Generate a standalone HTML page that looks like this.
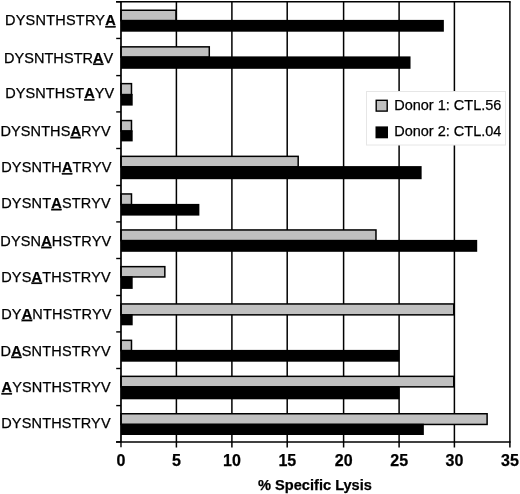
<!DOCTYPE html><html><head><meta charset="utf-8"><style>html,body{margin:0;padding:0;background:#fff;}svg{display:block;will-change:transform}text{font-family:"Liberation Sans",sans-serif;stroke:#000;stroke-width:0.25px}</style></head><body>
<svg width="520" height="494" viewBox="0 0 520 494">
<rect width="520" height="494" fill="#fff"/>
<line x1="176.40" y1="1.8" x2="176.40" y2="447.5" stroke="#000" stroke-width="1.5"/>
<line x1="231.90" y1="1.8" x2="231.90" y2="447.5" stroke="#000" stroke-width="1.5"/>
<line x1="287.20" y1="1.8" x2="287.20" y2="447.5" stroke="#000" stroke-width="1.5"/>
<line x1="343.60" y1="1.8" x2="343.60" y2="447.5" stroke="#000" stroke-width="1.5"/>
<line x1="399.10" y1="1.8" x2="399.10" y2="447.5" stroke="#000" stroke-width="1.5"/>
<line x1="454.40" y1="1.8" x2="454.40" y2="447.5" stroke="#000" stroke-width="1.5"/>
<line x1="509.90" y1="1.8" x2="509.90" y2="447.5" stroke="#000" stroke-width="1.5"/>
<rect x="366.5" y="91.5" width="139" height="53.5" fill="#fff" stroke="#e6e6e6" stroke-width="1"/>
<rect x="120.98" y="10.25" width="54.97" height="10.40" fill="#c0c0c0" stroke="#000" stroke-width="1.5"/>
<rect x="120.98" y="19.90" width="322.88" height="11.80" fill="#000"/>
<text x="4.92" y="25.10" font-size="14.5" textLength="110.80">DYSNTHSTRY<tspan font-weight="bold" text-decoration="underline">A</tspan></text>
<rect x="120.98" y="46.85" width="88.30" height="10.30" fill="#c0c0c0" stroke="#000" stroke-width="1.5"/>
<rect x="120.98" y="56.40" width="289.54" height="12.40" fill="#000"/>
<text x="3.92" y="62.50" font-size="14.5" textLength="109.37">DYSNTHSTR<tspan font-weight="bold" text-decoration="underline">A</tspan>V</text>
<rect x="120.98" y="83.65" width="10.51" height="11.00" fill="#c0c0c0" stroke="#000" stroke-width="1.5"/>
<rect x="120.98" y="93.90" width="11.71" height="11.70" fill="#000"/>
<text x="5.14" y="98.20" font-size="14.5" textLength="109.03">DYSNTHST<tspan font-weight="bold" text-decoration="underline">A</tspan>YV</text>
<rect x="120.98" y="120.55" width="10.51" height="10.50" fill="#c0c0c0" stroke="#000" stroke-width="1.5"/>
<rect x="120.98" y="130.30" width="11.71" height="11.10" fill="#000"/>
<text x="0.49" y="135.90" font-size="14.5" textLength="110.20">DYSNTHS<tspan font-weight="bold" text-decoration="underline">A</tspan>RYV</text>
<rect x="120.98" y="156.35" width="177.21" height="10.50" fill="#c0c0c0" stroke="#000" stroke-width="1.5"/>
<rect x="120.98" y="166.10" width="300.65" height="13.10" fill="#000"/>
<text x="1.20" y="172.10" font-size="14.5" textLength="110.31">DYSNTH<tspan font-weight="bold" text-decoration="underline">A</tspan>TRYV</text>
<rect x="120.98" y="193.95" width="10.51" height="10.70" fill="#c0c0c0" stroke="#000" stroke-width="1.5"/>
<rect x="120.98" y="203.90" width="78.39" height="11.70" fill="#000"/>
<text x="1.20" y="207.90" font-size="14.5" textLength="109.47">DYSNT<tspan font-weight="bold" text-decoration="underline">A</tspan>STRYV</text>
<rect x="120.98" y="229.95" width="255.00" height="10.70" fill="#c0c0c0" stroke="#000" stroke-width="1.5"/>
<rect x="120.98" y="239.90" width="356.22" height="11.90" fill="#000"/>
<text x="0.31" y="245.80" font-size="14.5" textLength="110.84">DYSN<tspan font-weight="bold" text-decoration="underline">A</tspan>HSTRYV</text>
<rect x="120.98" y="266.65" width="43.85" height="10.30" fill="#c0c0c0" stroke="#000" stroke-width="1.5"/>
<rect x="120.98" y="276.20" width="11.71" height="12.70" fill="#000"/>
<text x="1.20" y="281.50" font-size="14.5" textLength="109.49">DYS<tspan font-weight="bold" text-decoration="underline">A</tspan>THSTRYV</text>
<rect x="120.98" y="303.95" width="332.79" height="10.90" fill="#c0c0c0" stroke="#000" stroke-width="1.5"/>
<rect x="120.98" y="314.10" width="11.71" height="11.20" fill="#000"/>
<text x="1.20" y="318.70" font-size="14.5" textLength="110.31">DY<tspan font-weight="bold" text-decoration="underline">A</tspan>NTHSTRYV</text>
<rect x="120.98" y="340.35" width="10.51" height="10.30" fill="#c0c0c0" stroke="#000" stroke-width="1.5"/>
<rect x="120.98" y="349.90" width="278.43" height="11.80" fill="#000"/>
<text x="0.49" y="355.60" font-size="14.5" textLength="110.20">D<tspan font-weight="bold" text-decoration="underline">A</tspan>SNTHSTRYV</text>
<rect x="120.98" y="376.35" width="332.79" height="10.50" fill="#c0c0c0" stroke="#000" stroke-width="1.5"/>
<rect x="120.98" y="386.10" width="278.43" height="13.20" fill="#000"/>
<text x="1.50" y="392.10" font-size="14.5" textLength="109.19"><tspan font-weight="bold" text-decoration="underline">A</tspan>YSNTHSTRYV</text>
<rect x="120.98" y="413.75" width="366.13" height="10.70" fill="#c0c0c0" stroke="#000" stroke-width="1.5"/>
<rect x="120.98" y="423.70" width="302.87" height="11.30" fill="#000"/>
<text x="1.20" y="428.00" font-size="14.5" textLength="109.37">DYSNTHSTRYV<tspan font-weight="bold" text-decoration="underline"></tspan></text>
<line x1="120.98" y1="1.8" x2="120.98" y2="442.0" stroke="#000" stroke-width="1.7"/>
<line x1="116" y1="1.8" x2="510.63" y2="1.8" stroke="#000" stroke-width="1.6"/>
<line x1="116" y1="442.0" x2="510.63" y2="442.0" stroke="#000" stroke-width="1.7"/>
<line x1="116.2" y1="1.80" x2="120.98" y2="1.80" stroke="#000" stroke-width="1.4"/>
<line x1="116.2" y1="38.45" x2="120.98" y2="38.45" stroke="#000" stroke-width="1.4"/>
<line x1="116.2" y1="75.60" x2="120.98" y2="75.60" stroke="#000" stroke-width="1.4"/>
<line x1="116.2" y1="111.90" x2="120.98" y2="111.90" stroke="#000" stroke-width="1.4"/>
<line x1="116.2" y1="148.50" x2="120.98" y2="148.50" stroke="#000" stroke-width="1.4"/>
<line x1="116.2" y1="185.50" x2="120.98" y2="185.50" stroke="#000" stroke-width="1.4"/>
<line x1="116.2" y1="221.90" x2="120.98" y2="221.90" stroke="#000" stroke-width="1.4"/>
<line x1="116.2" y1="258.50" x2="120.98" y2="258.50" stroke="#000" stroke-width="1.4"/>
<line x1="116.2" y1="295.50" x2="120.98" y2="295.50" stroke="#000" stroke-width="1.4"/>
<line x1="116.2" y1="331.90" x2="120.98" y2="331.90" stroke="#000" stroke-width="1.4"/>
<line x1="116.2" y1="368.50" x2="120.98" y2="368.50" stroke="#000" stroke-width="1.4"/>
<line x1="116.2" y1="405.60" x2="120.98" y2="405.60" stroke="#000" stroke-width="1.4"/>
<line x1="116.2" y1="441.90" x2="120.98" y2="441.90" stroke="#000" stroke-width="1.4"/>
<line x1="120.98" y1="442.0" x2="120.98" y2="447.3" stroke="#000" stroke-width="1.4"/>
<text x="121.00" y="466.0" font-size="16" font-weight="bold" text-anchor="middle">0</text>
<text x="176.50" y="466.0" font-size="16" font-weight="bold" text-anchor="middle">5</text>
<text x="232.00" y="466.0" font-size="16" font-weight="bold" text-anchor="middle">10</text>
<text x="287.30" y="466.0" font-size="16" font-weight="bold" text-anchor="middle">15</text>
<text x="343.70" y="466.0" font-size="16" font-weight="bold" text-anchor="middle">20</text>
<text x="399.20" y="466.0" font-size="16" font-weight="bold" text-anchor="middle">25</text>
<text x="454.50" y="466.0" font-size="16" font-weight="bold" text-anchor="middle">30</text>
<text x="510.00" y="466.0" font-size="16" font-weight="bold" text-anchor="middle">35</text>
<text x="315" y="490.1" font-size="14.6" font-weight="bold" text-anchor="middle">% Specific Lysis</text>
<rect x="376.2" y="100.3" width="11" height="10.8" fill="#c0c0c0" stroke="#000" stroke-width="1.4"/>
<rect x="375.5" y="126.4" width="12.5" height="11.9" fill="#000"/>
<text x="394.2" y="109.8" font-size="14.5">Donor 1: CTL.56</text>
<text x="394.2" y="135.8" font-size="14.5">Donor 2: CTL.04</text>
</svg></body></html>
